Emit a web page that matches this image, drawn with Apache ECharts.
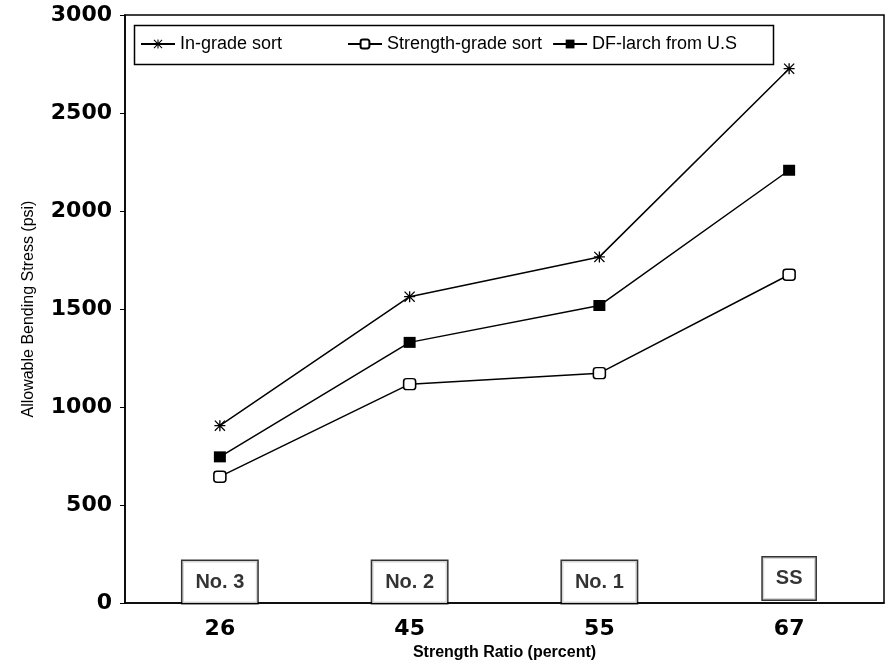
<!DOCTYPE html>
<html><head><meta charset="utf-8">
<script src="https://cdn.jsdelivr.net/npm/echarts@6/dist/echarts.min.js"></script>
<style>html,body{margin:0;padding:0;background:#fff}#c{width:894px;height:666px}</style>
</head><body><div id="c"></div>
<script>
const categories = ['26', '45', '55', '67'];
const gradeLabels = ['No. 3', 'No. 2', 'No. 1', 'SS'];
const gradeLabelY = [107, 107, 107, 125];
const inGrade = [905, 1563, 1766, 2726];
const strengthGrade = [645, 1117, 1173, 1675];
const dfLarch = [746, 1330, 1518, 2208];
const yTicks = [0, 500, 1000, 1500, 2000, 2500, 3000];
const seriesNames = ['In-grade sort', 'Strength-grade sort', 'DF-larch from U.S'];

const star = 'path://M0,4.4L10,4.4L10,5.6L0,5.6Z M4.4,0L5.6,0L5.6,10L4.4,10Z M0.8,0L5,4.2L9.2,0L10,0.8L5.8,5L10,9.2L9.2,10L5,5.8L0.8,10L0,9.2L4.2,5L0,0.8Z';

const chart = echarts.init(document.getElementById('c'));
const font = '"Liberation Sans", Arial, sans-serif';
const legendBase = {
  top: 35, orient: 'horizontal', padding: 0, z: 10,
  itemWidth: 34, itemHeight: 11, itemGap: 10,
  textStyle: { fontFamily: font, fontSize: 18, color: '#000' }
};
chart.setOption({
  animation: false,
  backgroundColor: '#fff',
  grid: { left: 125, right: 10, top: 15, bottom: 60, show: true, borderColor: '#000', borderWidth: 1.5 },
  graphic: [{ type: 'rect', left: 132, top: 23, z: 1, silent: true,
    shape: { width: 639, height: 39 },
    style: { fill: 'none', stroke: '#000', lineWidth: 1.5 } }],
  legend: [
    Object.assign({}, legendBase, { left: 140, data: [seriesNames[0]] }),
    Object.assign({}, legendBase, { left: 347, data: [seriesNames[1], seriesNames[2]] })
  ],
  xAxis: {
    type: 'category', data: categories, boundaryGap: true,
    name: 'Strength Ratio (percent)', nameLocation: 'middle', nameGap: 40,
    nameTextStyle: { fontFamily: font, fontSize: 16, fontWeight: 'bold', color: '#000' },
    axisLine: { lineStyle: { color: '#000', width: 1.5 } },
    axisTick: { alignWithLabel: true, length: 5, lineStyle: { color: '#000' } },
    axisLabel: { fontFamily: '"DejaVu Sans", sans-serif', fontSize: 22, fontWeight: 'bold', color: '#000', margin: 15 },
    splitLine: { show: false }
  },
  yAxis: {
    type: 'value', min: 0, max: 3000, interval: 500,
    name: 'Allowable Bending Stress (psi)', nameLocation: 'middle', nameGap: 88,
    nameTextStyle: { fontFamily: font, fontSize: 16, color: '#000' },
    axisLine: { show: true, lineStyle: { color: '#000', width: 1.5 } },
    axisTick: { show: true, length: 5, lineStyle: { color: '#000' } },
    axisLabel: { fontFamily: '"DejaVu Sans", sans-serif', fontSize: 22, fontWeight: 'bold', color: '#000', margin: 13,
      formatter: v => yTicks.includes(v) ? String(v) : '' },
    splitLine: { show: false }
  },
  series: [
    { name: seriesNames[0], type: 'line', data: inGrade, symbol: star, symbolSize: 11,
      lineStyle: { color: '#000', width: 1.5 }, itemStyle: { color: '#000' } },
    { name: seriesNames[1], type: 'line', data: strengthGrade, symbol: 'roundRect', symbolSize: [12, 11],
      lineStyle: { color: '#000', width: 1.5 }, itemStyle: { color: '#fff', borderColor: '#000', borderWidth: 1.5 } },
    { name: seriesNames[2], type: 'line', data: dfLarch, symbol: 'rect', symbolSize: [12, 11],
      lineStyle: { color: '#000', width: 1.5 }, itemStyle: { color: '#000' } },
    { name: 'grades', type: 'scatter', symbolSize: 0, silent: true,
      data: gradeLabelY.map((v, i) => ({ value: [i, v], name: gradeLabels[i] })),
      label: { show: true, position: 'inside', formatter: p => p.name,
        fontFamily: font, fontSize: 20, fontWeight: 'bold', color: '#000',
        backgroundColor: '#fff', borderColor: '#000', borderWidth: 1.5,
        padding: [11, 13, 11, 13] } }
  ]
});
</script></body></html>
